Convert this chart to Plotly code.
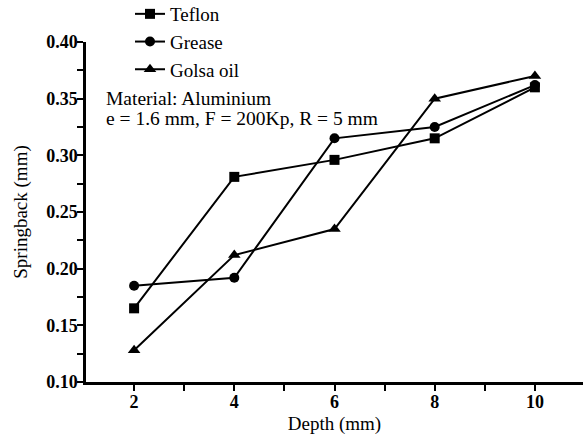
import plotly.graph_objects as go

depth = [2, 4, 6, 8, 10]
teflon = [0.165, 0.281, 0.296, 0.315, 0.360]
grease = [0.185, 0.192, 0.315, 0.325, 0.362]
golsa = [0.128, 0.212, 0.235, 0.350, 0.370]

series_names = ["Teflon", "Grease", "Golsa oil"]
series_values = [teflon, grease, golsa]
symbols = ["square", "circle", "triangle-up"]
sizes = [10, 10, 11]

annot_lines = ["Material: Aluminium", "e = 1.6 mm, F = 200Kp, R = 5 mm"]

FONT = "Liberation Serif"

fig = go.Figure()
for i, (name, vals) in enumerate(zip(series_names, series_values)):
    fig.add_trace(go.Scatter(
        x=depth, y=vals, name=name, mode="lines+markers",
        line=dict(color="black", width=2),
        marker=dict(symbol=symbols[i], size=sizes[i], color="black"),
        legendgroup=name,
    ))

L, T, W, H = 86, 42, 497, 340
fig.update_layout(
    width=583, height=438,
    margin=dict(l=L, r=583 - L - W, t=T, b=438 - T - H, autoexpand=False),
    paper_bgcolor="white", plot_bgcolor="white",
    font=dict(family=FONT, color="black", size=19),
    showlegend=True,
    legend=dict(
        x=(130 - L) / W, xanchor="left",
        y=1 + (T + 5) / H, yanchor="top",
        bgcolor="rgba(0,0,0,0)", borderwidth=0,
        font=dict(family=FONT, size=19, color="black"),
        tracegroupgap=0,
    ),
)

fig.update_xaxes(
    range=[1.04, 10.96], showgrid=False, zeroline=False,
    showline=True, linecolor="black", linewidth=2.5,
    ticks="outside", ticklen=6, tickwidth=2, tickcolor="black",
    tickmode="linear", tick0=2, dtick=2,
    minor=dict(ticks="outside", ticklen=6, tickwidth=2, tickcolor="black", dtick=1, tick0=1, showgrid=False),
    tickfont=dict(family=FONT, size=18, color="black", weight="bold"),
    ticklabelstandoff=-4,
    title=dict(text="Depth (mm)", font=dict(family=FONT, size=19, color="black"), standoff=6),
    automargin=False,
)
fig.update_yaxes(
    range=[0.10, 0.40], showgrid=False, zeroline=False,
    showline=True, linecolor="black", linewidth=2.5,
    ticks="outside", ticklen=6, tickwidth=2, tickcolor="black",
    tickmode="linear", tick0=0.10, dtick=0.05, tickformat=".2f",
    minor=dict(ticks="outside", ticklen=6, tickwidth=2, tickcolor="black", dtick=0.025, showgrid=False),
    tickfont=dict(family=FONT, size=18, color="black", weight="bold"),
    ticklabelstandoff=-4,
    title=dict(text="Springback (mm)", font=dict(family=FONT, size=19, color="black"), standoff=14),
    automargin=False,
)

ys = [98, 119]
for txt, ypx in zip(annot_lines, ys):
    fig.add_annotation(
        text=txt, xref="paper", yref="paper",
        x=(104 - L) / W, xanchor="left",
        y=1 - (ypx - T) / H, yanchor="middle",
        showarrow=False, font=dict(family=FONT, size=19.5, color="black"),
    )

fig.write_html(
    "out.html",
    config={"displayModeBar": False},
    post_script="document.body.style.margin='0';document.body.style.overflow='hidden';",
)
